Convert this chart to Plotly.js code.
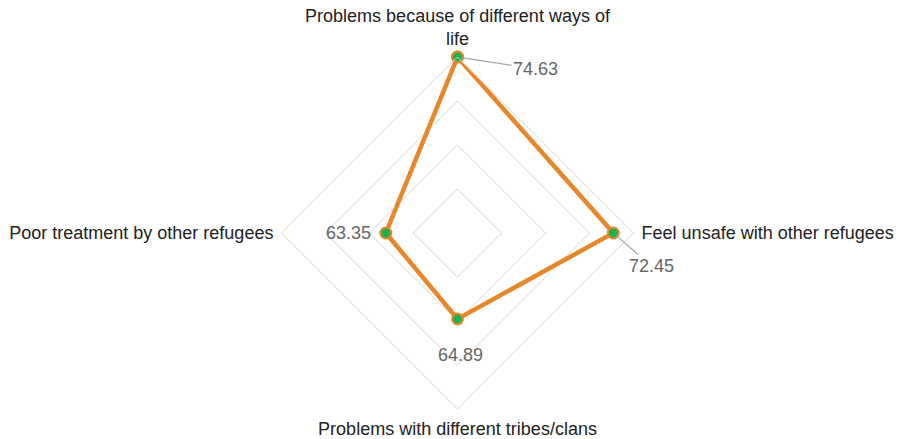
<!DOCTYPE html>
<html>
<head>
<meta charset="utf-8">
<script src="https://cdn.plot.ly/plotly-3.0.1.min.js"></script>
<style>html,body{margin:0;padding:0;background:#fff;}#chart{width:900px;height:439px;}</style>
</head>
<body>
<div id="chart"></div>
<script>
// ---- data ----
var categories = [
  "Problems because of different ways of<br>life",
  "Feel unsafe with other refugees",
  "Problems with different tribes/clans",
  "Poor treatment by other refugees"
];
var values = [74.63, 72.45, 64.89, 63.35];
var valueLabels = ["74.63", "72.45", "64.89", "63.35"];
var gridVals = [60.37, 65.12, 69.88];
var radialRange = [55.6, 74.63];

// ---- label placement (pixel offsets from each point) ----
var labelOffsets = [
  {ax: 78, ay: 12, line: true},
  {ax: 38, ay: 33, line: true},
  {ax: 3, ay: 36, line: false},
  {ax: -37, ay: 0, line: false}
];

var W = 900, H = 439;
var margin = {l: 100, r: 85, t: 57, b: 30};
var plotW = W - margin.l - margin.r, plotH = H - margin.t - margin.b;
var R = Math.min(plotW, plotH) / 2;

var thetaClosed = categories.concat([categories[0]]);
var rClosed = values.concat([values[0]]);

var trace = {
  type: 'scatterpolar',
  r: rClosed,
  theta: thetaClosed,
  mode: 'lines+markers',
  line: {color: '#E8872A', width: 4.5},
  marker: {size: 11, color: '#1DB14B', line: {color: '#E8872A', width: 2}},
  hoverinfo: 'r+theta',
  showlegend: false
};

// annotations anchored at the points via the polar geometry (clockwise from top)
var annotations = values.map(function (v, i) {
  var rp = R * (v - radialRange[0]) / (radialRange[1] - radialRange[0]);
  var ang = i * Math.PI / 2;
  var o = labelOffsets[i];
  return {
    xref: 'paper', yref: 'paper',
    x: 0.5 + rp * Math.sin(ang) / plotW,
    y: 0.5 + rp * Math.cos(ang) / plotH,
    text: valueLabels[i],
    showarrow: true,
    arrowhead: 0,
    arrowwidth: 1.2,
    arrowcolor: o.line ? '#a6a6a6' : 'rgba(0,0,0,0)',
    standoff: 4,
    ax: o.ax, ay: o.ay,
    font: {family: 'Liberation Sans, Arial, sans-serif', size: 18, color: '#666666'}
  };
});

var layout = {
  width: W, height: H,
  margin: margin,
  paper_bgcolor: '#ffffff',
  showlegend: false,
  font: {family: 'Liberation Sans, Arial, sans-serif', size: 18, color: '#222222'},
  polar: {
    domain: {x: [0, 1], y: [0, 1]},
    bgcolor: 'rgba(0,0,0,0)',
    gridshape: 'linear',
    radialaxis: {
      range: radialRange,
      tickvals: gridVals,
      showticklabels: false,
      ticks: '',
      showline: false,
      showgrid: true,
      gridcolor: '#d6d6d6',
      gridwidth: 1
    },
    angularaxis: {
      rotation: 90,
      direction: 'clockwise',
      showgrid: false,
      showline: true,
      linecolor: '#d6d6d6',
      linewidth: 1,
      ticks: 'outside',
      ticklen: 4,
      tickcolor: 'rgba(0,0,0,0)',
      tickfont: {size: 18, color: '#222222'}
    }
  },
  annotations: annotations
};

Plotly.newPlot('chart', [trace], layout, {displayModeBar: false, staticPlot: true});
</script>
</body>
</html>
